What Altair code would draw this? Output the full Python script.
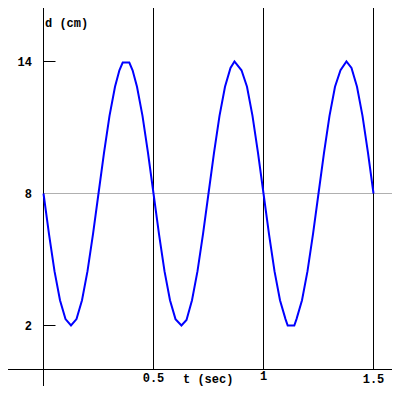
import altair as alt
import pandas as pd

# Curve samples: time (sec) and displacement (cm)
t_vals = [0, .025, .05, .075, .1, .125, .15, .175, .2, .225, .25, .275, .3, .325, .345, .36, .39, .405, .425, .45, .475, .5,
          .525, .55, .575, .6, .627, .65, .675, .7, .725, .75, .775, .8, .825, .85, .868, .9, .925, .95, .975, 1.0,
          1.025, 1.05, 1.075, 1.1, 1.11, 1.14, 1.15, 1.175, 1.2, 1.225, 1.25, 1.275, 1.3, 1.325, 1.35, 1.377, 1.4, 1.425, 1.45, 1.475, 1.5]
d_vals = [8, 6.15, 4.47, 3.15, 2.29, 2.0, 2.29, 3.15, 4.47, 6.15, 8, 9.85, 11.53, 12.85, 13.6, 13.95, 13.95, 13.6, 12.85, 11.53, 9.85, 8,
          6.15, 4.47, 3.15, 2.29, 2.0, 2.25, 3.15, 4.47, 6.15, 8, 9.85, 11.53, 12.85, 13.71, 14.0, 13.6, 12.85, 11.53, 9.85, 8,
          6.15, 4.47, 3.15, 2.29, 2.0, 2.0, 2.29, 3.15, 4.47, 6.15, 8, 9.85, 11.53, 12.85, 13.6, 14.0, 13.71, 12.85, 11.53, 9.85, 8]

x_ticks = [0.5, 1, 1.5]
x_tick_labels = ["0.5", "1", "1.5"]
y_ticks = [14, 8, 2]
y_tick_labels = ["14", "8", "2"]
x_title = "t (sec)"
y_title = "d (cm)"

W, H = 384, 378
xdom = [-35.5 / 220, (W - 35.5) / 220]
ydom = [(361.5 - H) / 22, 361.5 / 22]
xs = alt.Scale(domain=xdom, range=[0, W], nice=False, zero=False)
ys = alt.Scale(domain=ydom, range=[H, 0], nice=False, zero=False)
FONT = "Liberation Mono"

curve = pd.DataFrame({"t": t_vals, "d": d_vals})
xt = pd.DataFrame({"t": x_ticks, "lab": x_tick_labels, "zero": [0] * 3})
yt = pd.DataFrame({"d": y_ticks, "lab": y_tick_labels, "t0": [0] * 3})
origin = pd.DataFrame({"t": [0], "d": [0]})

X = lambda f: alt.X(f, type="quantitative", scale=xs, axis=None)
Y = lambda f: alt.Y(f, type="quantitative", scale=ys, axis=None)

vline0 = alt.Chart(origin).mark_rule(color="black", strokeWidth=1).encode(
    x=X("t"), y=alt.value(0), y2=alt.value(H))
hline0 = alt.Chart(origin).mark_rule(color="black", strokeWidth=1).encode(
    y=Y("d"), x=alt.value(0), x2=alt.value(W))
vgrid = alt.Chart(xt).mark_rule(color="black", strokeWidth=1).encode(
    x=X("t"), y=Y("zero"), y2=alt.value(0))
mid = yt[yt["d"] == 8]
hmid = alt.Chart(mid).mark_rule(color="#b0b0b0", strokeWidth=1).encode(
    y=Y("d"), x=X("t0"), x2=alt.value(W))
ends = yt[yt["d"] != 8].assign(t1=12 / 220)
yticks = alt.Chart(ends).mark_rule(color="black", strokeWidth=1).encode(
    y=Y("d"), x=X("t0"), x2=alt.X2("t1"))

line = alt.Chart(curve).mark_line(color="#0000ff", strokeWidth=2).encode(
    x=X("t"), y=Y("d"), order="t:Q")

TXT = dict(font=FONT, fontSize=12, fontWeight="bold", color="black")

ylabels = alt.Chart(yt).mark_text(align="right", baseline="middle", **TXT).encode(
    y=Y("d"), x=alt.value(24), text="lab:N")

xl_layers = []
for i, dy in zip(range(3), [0, -2, 1]):
    xl_layers.append(alt.Chart(xt.iloc[[i]]).mark_text(
        align="center", baseline="middle", dy=dy, **TXT).encode(
        x=X("t"), y=alt.value(370), text="lab:N"))

xtitle = alt.Chart(origin).mark_text(align="left", baseline="middle", **TXT).encode(
    x=alt.value(175), y=alt.value(371), text=alt.value(x_title))
ytitle = alt.Chart(origin).mark_text(align="left", baseline="middle", **TXT).encode(
    x=alt.value(37), y=alt.value(14.5), text=alt.value(y_title))

chart = alt.layer(hmid, vline0, hline0, vgrid, yticks, line,
                  ylabels, *xl_layers, xtitle, ytitle).properties(
    width=W, height=H, autosize=alt.AutoSizeParams(type="none"), padding=0,
    background="white"
).configure_view(stroke=None)

chart.save("out.html", embed_options={"renderer": "svg", "actions": False})
